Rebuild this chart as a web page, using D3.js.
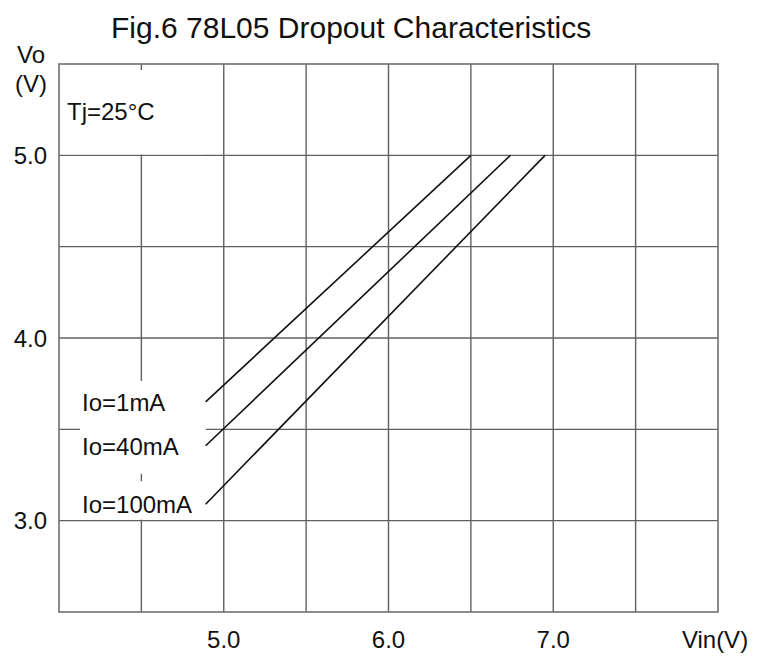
<!DOCTYPE html>
<html>
<head>
<meta charset="utf-8">
<script src="https://cdn.jsdelivr.net/npm/d3@7"></script>
<style>
  body { margin: 0; background: #fff; }
  text { font-family: "Liberation Sans", Arial, sans-serif; fill: #111; }
</style>
</head>
<body>
<div id="chart"></div>
<script>
// data
const seriesNames = ["Io=1mA", "Io=40mA", "Io=100mA"]
const vinStart = [4.89, 4.89, 4.89]
const voStart = [3.65, 3.41, 3.09]
const vinEnd = [6.50, 6.74, 6.95]
const voEnd = [5.0, 5.0, 5.0]
const xTickVals = [5.0, 6.0, 7.0]
const xTickLabels = ["5.0", "6.0", "7.0"]
const yTickVals = [3.0, 4.0, 5.0]
const yTickLabels = ["3.0", "4.0", "5.0"]

const width = 766, height = 657
const margin = { top: 64, right: 48, bottom: 45, left: 59 }

const svg = d3.select("#chart").append("svg")
  .attr("width", width)
  .attr("height", height)

const x = d3.scaleLinear().domain([4.0, 8.0]).range([margin.left, width - margin.right])
const y = d3.scaleLinear().domain([2.5, 5.5]).range([height - margin.bottom, margin.top])

// grid every 0.5 V
const gridX = d3.range(4.5, 8.0, 0.5)
const gridY = d3.range(3.0, 5.5, 0.5)

const grid = svg.append("g")
grid.selectAll("line.vx")
  .data(gridX)
  .join("line")
  .attr("x1", d => x(d)).attr("x2", d => x(d))
  .attr("y1", y(5.5)).attr("y2", y(2.5))
  .attr("stroke", "#606060")
  .attr("stroke-width", 1.4)
grid.selectAll("line.hy")
  .data(gridY)
  .join("line")
  .attr("x1", x(4.0)).attr("x2", x(8.0))
  .attr("y1", d => y(d)).attr("y2", d => y(d))
  .attr("stroke", "#606060")
  .attr("stroke-width", 1.4)

// frame
svg.append("rect")
  .attr("x", x(4.0)).attr("y", y(5.5))
  .attr("width", x(8.0) - x(4.0))
  .attr("height", y(2.5) - y(5.5))
  .attr("fill", "none")
  .attr("stroke", "#707070")
  .attr("stroke-width", 1.6)

// white patch behind Tj label
svg.append("rect")
  .attr("x", x(4.0) + 2).attr("y", y(5.5) + 6)
  .attr("width", x(4.88) - x(4.0) - 2)
  .attr("height", y(5.0) - y(5.5) - 7)
  .attr("fill", "#fff")

svg.append("text")
  .attr("x", 67).attr("y", 120)
  .style("font-size", "24px")
  .text("Tj=25°C")

// curve labels, with white patches under them
const labelG = svg.append("g")
const labels = labelG.selectAll("text")
  .data(seriesNames)
  .join("text")
  .attr("x", 82)
  .attr("y", (d, i) => y(voStart[i]) + 9)
  .style("font-size", "24px")
  .text(d => d)

const bb = labels.nodes().map(n => n.getBBox())
const masks = [
  [bb[0].y - 8, bb[1].y + bb[1].height + 14],
  [bb[2].y - 10, y(3.0) - 1]
]
labelG.selectAll("rect")
  .data(masks)
  .join("rect")
  .attr("x", 80)
  .attr("y", d => d[0])
  .attr("width", x(vinStart[0]) - 80)
  .attr("height", d => d[1] - d[0])
  .attr("fill", "#fff")
labels.raise()

// characteristic lines
svg.append("g")
  .selectAll("line")
  .data(seriesNames)
  .join("line")
  .attr("x1", (d, i) => x(vinStart[i]))
  .attr("y1", (d, i) => y(voStart[i]))
  .attr("x2", (d, i) => x(vinEnd[i]))
  .attr("y2", (d, i) => y(voEnd[i]))
  .attr("stroke", "#111")
  .attr("stroke-width", 1.6)

// y tick labels
svg.append("g")
  .selectAll("text")
  .data(yTickVals)
  .join("text")
  .attr("x", 47)
  .attr("y", d => y(d))
  .attr("dy", "0.36em")
  .attr("text-anchor", "end")
  .style("font-size", "24px")
  .text((d, i) => yTickLabels[i])

// x tick labels
svg.append("g")
  .selectAll("text")
  .data(xTickVals)
  .join("text")
  .attr("x", d => x(d))
  .attr("y", 648)
  .attr("text-anchor", "middle")
  .style("font-size", "24px")
  .text((d, i) => xTickLabels[i])

// axis titles
svg.append("text")
  .attr("x", 715).attr("y", 648)
  .attr("text-anchor", "middle")
  .style("font-size", "24px")
  .text("Vin(V)")

svg.append("text")
  .attr("x", 31).attr("y", 63)
  .attr("text-anchor", "middle")
  .style("font-size", "24px")
  .text("Vo")
svg.append("text")
  .attr("x", 31).attr("y", 92)
  .attr("text-anchor", "middle")
  .style("font-size", "24px")
  .text("(V)")

// title
svg.append("text")
  .attr("x", 111).attr("y", 38)
  .style("font-size", "30px")
  .text("Fig.6 78L05 Dropout Characteristics")
</script>
</body>
</html>
